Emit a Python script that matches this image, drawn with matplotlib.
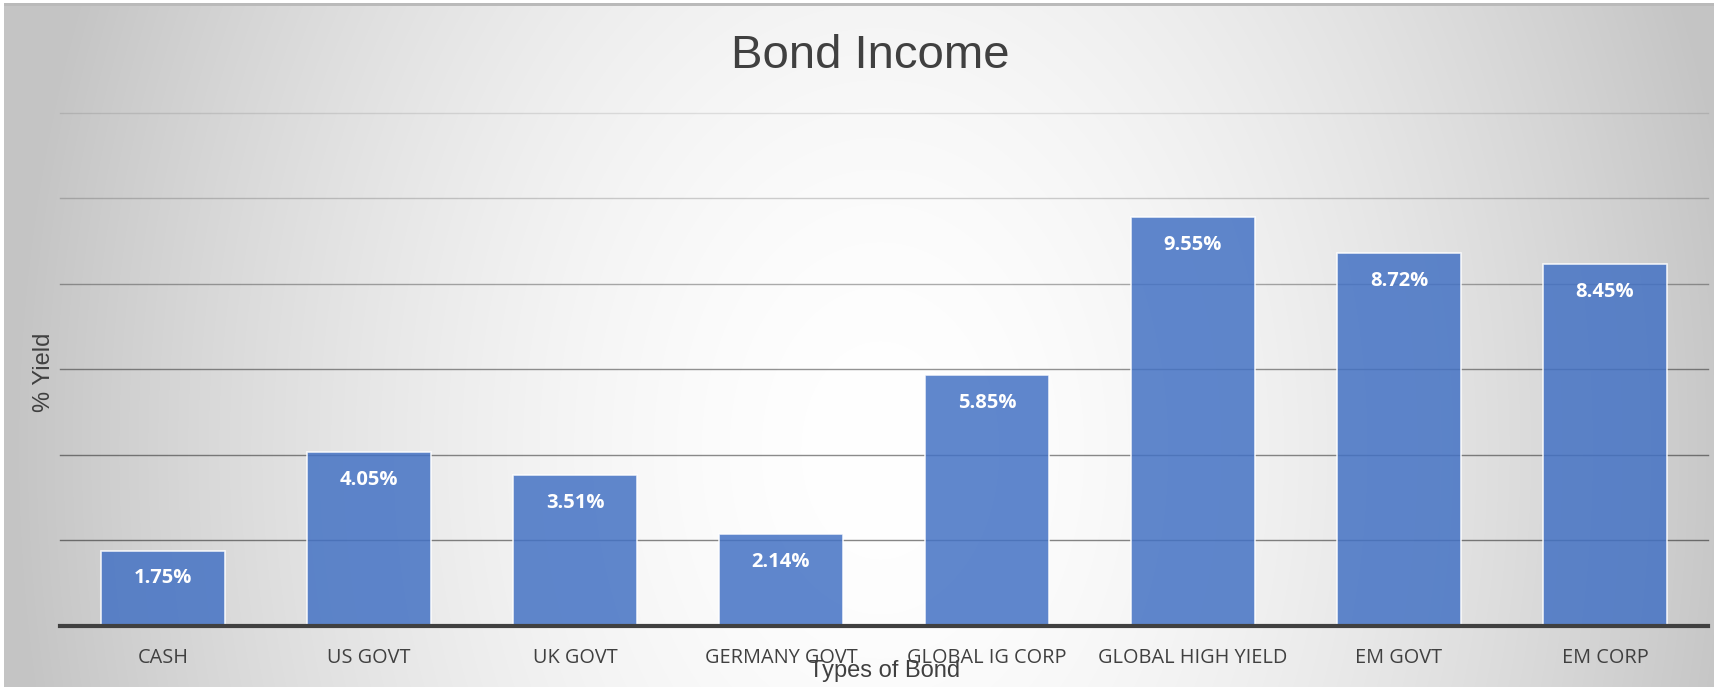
import numpy as np
import matplotlib
matplotlib.use("Agg")
import matplotlib.pyplot as plt

# Chart data
categories = ["CASH", "US GOVT", "UK GOVT", "GERMANY GOVT", "GLOBAL IG CORP",
              "GLOBAL HIGH YIELD", "EM GOVT", "EM CORP"]
yields = [1.75, 4.05, 3.51, 2.14, 5.85, 9.55, 8.72, 8.45]
grid_values = [2, 4, 6, 8, 10, 12]
grid_alpha = [0.47, 0.45, 0.42, 0.32, 0.18, 0.10]

W, H = 1714, 687
fig = plt.figure(figsize=(W / 100, H / 100), dpi=100)
fig.patch.set_facecolor("white")

# Radial grey-to-white background panel
bg = fig.add_axes([0, 0, 1, 1], zorder=0)
bg.axis("off")
yy, xx = np.mgrid[0:H, 0:W]
cx, cy, rx, ry = 880, 450, 870, 1200
d = np.sqrt(((xx - cx) / rx) ** 2 + ((yy - cy) / ry) ** 2)
shade = (255 - 59 * np.clip(d, 0, 1) ** 1.7) / 255
img = np.repeat(shade[..., None], 3, axis=2)
img[:, :4] = 1.0
img[:3, :] = 1.0
img[3:6, 4:] = 0.73
bg.imshow(img, extent=[0, W, H, 0], aspect="auto", interpolation="bilinear")
bg.set_xlim(0, W)
bg.set_ylim(H, 0)

# Plot area
left, right = 60 / W, 1708 / W
bottom, top = (H - 625.5) / H, (H - 112.6) / H
ax = fig.add_axes([left, bottom, right - left, top - bottom], zorder=1)
ax.patch.set_alpha(0)
for s in ax.spines.values():
    s.set_visible(False)

x = np.arange(len(categories))
ax.set_xlim(-0.5, len(categories) - 0.5)
ax.set_ylim(0, 12)

for g, a in zip(grid_values, grid_alpha):
    ax.axhline(g, color="black", alpha=a, lw=1.0, zorder=1, clip_on=False)

ax.bar(x, yields, width=0.6, color="#4472C4", alpha=0.85,
       edgecolor=(1, 1, 1, 0.55), linewidth=1.2, zorder=2)
ax.axhline(0, color="#404040", lw=3, zorder=3, clip_on=False)

for xi, v in zip(x, yields):
    ax.annotate(f"{v:.2f}%", (xi, v), xytext=(0, -20), textcoords="offset points",
                ha="center", va="center", color="white", fontweight="bold",
                fontsize=14.5, family="Open Sans", zorder=4)

ax.set_xticks(x)
ax.set_xticklabels(categories, family="Open Sans", fontsize=14.3, color="#404040")
ax.tick_params(axis="x", length=0, pad=16)
ax.set_yticks([])

# Titles
fig.text(870 / W, 1 - 56 / H, "Bond Income", ha="center", va="center",
         fontsize=34, color="#404040", family="Liberation Sans")
fig.text(885 / W, 1 - 671 / H, "Types of Bond", ha="center", va="center",
         fontsize=17, color="#404040", family="Liberation Sans")
fig.text(43.5 / W, 1 - 372 / H, "% Yield", ha="center", va="center", rotation=90,
         fontsize=17, color="#404040", family="Liberation Sans")

fig.savefig("out.png", dpi=100)
